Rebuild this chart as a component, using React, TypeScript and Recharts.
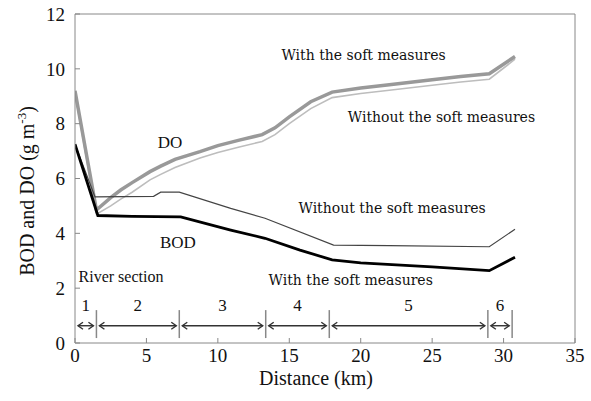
import React from 'react';
import { LineChart, Line, XAxis, YAxis, ReferenceLine, ReferenceDot } from 'recharts';

// DO with the soft measures
const doWithKm = [0, 1.5, 2.5, 3.2, 4, 5.25, 6, 7, 8.75, 10, 11.5, 13.1, 14, 15, 16.5, 18, 20, 22, 25, 27, 29, 30.8];
const doWithVal = [9.2, 4.85, 5.3, 5.58, 5.85, 6.25, 6.45, 6.7, 6.98, 7.2, 7.4, 7.6, 7.85, 8.25, 8.8, 9.15, 9.3, 9.42, 9.6, 9.72, 9.82, 10.45];
// DO without the soft measures
const doWithoutKm = [0, 1.5, 2.5, 3.2, 4, 5.25, 6, 7, 8.75, 10, 11.5, 13.1, 14, 15, 16.5, 18, 20, 22, 25, 27, 29, 30.8];
const doWithoutVal = [9.1, 4.7, 5.0, 5.25, 5.5, 5.95, 6.15, 6.4, 6.75, 6.95, 7.15, 7.35, 7.6, 8.0, 8.55, 8.95, 9.1, 9.22, 9.4, 9.52, 9.62, 10.35];
// BOD with the soft measures
const bodWithKm = [0, 1.6, 4, 7.4, 10.9, 13.3, 15.75, 18, 20, 25, 29, 30.8];
const bodWithVal = [7.25, 4.65, 4.62, 4.6, 4.12, 3.82, 3.39, 3.03, 2.92, 2.78, 2.64, 3.13];
// BOD without the soft measures
const bodWithoutKm = [0, 1.4, 5.5, 6, 7.3, 10.9, 13.3, 18.1, 22, 29, 30.8];
const bodWithoutVal = [7.25, 5.33, 5.35, 5.5, 5.5, 4.91, 4.55, 3.57, 3.55, 3.51, 4.15];

// River sections
const sectionBounds = [0, 1.5, 7.3, 13.35, 17.8, 28.9, 30.6];
const sectionLabels = ['1', '2', '3', '4', '5', '6'];

const xTicks = [0, 5, 10, 15, 20, 25, 30, 35];
const yTicks = [0, 2, 4, 6, 8, 10, 12];

const toRows = (km: number[], v: number[]) => km.map((k, i) => ({ km: k, v: v[i] }));
const doWith = toRows(doWithKm, doWithVal);
const doWithout = toRows(doWithoutKm, doWithoutVal);
const bodWith = toRows(bodWithKm, bodWithVal);
const bodWithout = toRows(bodWithoutKm, bodWithoutVal);

const AXIS_FONT = '"Liberation Serif", "Times New Roman", serif';
const NOTE_FONT = '"DejaVu Serif", serif';

const ArrowShape = (p: any) => {
  const { x1, y1, x2 } = p;
  const a = x1 + 3;
  const b = x2 - 3;
  const h = 5;
  return (
    <g stroke="#333" strokeWidth={1.4} fill="none">
      <line x1={a} y1={y1} x2={b} y2={y1} />
      <polyline points={`${a + h},${y1 - h * 0.7} ${a},${y1} ${a + h},${y1 + h * 0.7}`} />
      <polyline points={`${b - h},${y1 - h * 0.7} ${b},${y1} ${b - h},${y1 + h * 0.7}`} />
    </g>
  );
};

const makeText = (text: string, font: string, size: number, anchor: string = 'middle') => (p: any) => (
  <text x={p.cx} y={p.cy} textAnchor={anchor} dominantBaseline="central" fontFamily={font} fontSize={size} fill="#111">
    {text}
  </text>
);

const notes = [
  { x: 20.2, y: 10.5, t: 'With the soft measures' },
  { x: 25.65, y: 8.24, t: 'Without the soft measures' },
  { x: 22.2, y: 4.92, t: 'Without the soft measures' },
  { x: 19.3, y: 2.3, t: 'With the soft measures' },
];

export default function App() {
  return (
    <div style={{ position: 'absolute', left: 0, top: 0, width: 591, height: 401, background: '#fff' }}>
      <LineChart width={591} height={401} margin={{ top: 14, right: 16, bottom: 0, left: 0 }}>
        <XAxis
          type="number"
          dataKey="km"
          domain={[0, 35]}
          ticks={xTicks}
          allowDataOverflow
          height={58}
          stroke="#888"
          tickSize={-5}
          tickMargin={11}
          tick={{ fill: '#111', fontFamily: AXIS_FONT, fontSize: 19 }}
          label={{
            content: () => (
              <text x={316} y={385} textAnchor="middle" fontFamily={AXIS_FONT} fontSize={20} fill="#111">
                Distance (km)
              </text>
            ),
          }}
        />
        <YAxis
          type="number"
          domain={[0, 12]}
          ticks={yTicks}
          width={75}
          stroke="#888"
          tickSize={-5}
          tickMargin={15}
          tick={{ fill: '#111', fontFamily: AXIS_FONT, fontSize: 19 }}
          label={{
            content: () => (
              <text x={34} y={191} textAnchor="middle" transform="rotate(-90 34 191)" fontFamily={AXIS_FONT} fontSize={20} fill="#111">
                BOD and DO (g m<tspan dy={-8} fontSize={13}>-3</tspan><tspan dy={8}>)</tspan>
              </text>
            ),
          }}
        />
        <ReferenceLine y={12} stroke="#888" strokeWidth={1} />
        <ReferenceLine x={35} stroke="#888" strokeWidth={1} />

        <Line data={doWithout} dataKey="v" stroke="#bdbdbd" strokeWidth={1.6} dot={false} isAnimationActive={false} />
        <Line data={doWith} dataKey="v" stroke="#999" strokeWidth={3.5} dot={false} isAnimationActive={false} />
        <Line data={bodWithout} dataKey="v" stroke="#444" strokeWidth={1.2} dot={false} isAnimationActive={false} />
        <Line data={bodWith} dataKey="v" stroke="#000" strokeWidth={2.8} dot={false} isAnimationActive={false} />

        {sectionBounds.slice(1).map((b, i) => (
          <ReferenceLine key={'v' + i} segment={[{ x: b, y: 0.18 }, { x: b, y: 1.2 }]} stroke="#888" strokeWidth={1.5} />
        ))}
        {sectionLabels.map((lab, i) => (
          <ReferenceLine
            key={'a' + i}
            segment={[{ x: sectionBounds[i], y: 0.63 }, { x: sectionBounds[i + 1], y: 0.63 }]}
            shape={ArrowShape}
          />
        ))}
        {sectionLabels.map((lab, i) => (
          <ReferenceDot
            key={'l' + i}
            x={(sectionBounds[i] + sectionBounds[i + 1]) / 2}
            y={1.35}
            r={0}
            shape={makeText(lab, AXIS_FONT, 17)}
          />
        ))}
        {notes.map((n, i) => (
          <ReferenceDot key={'n' + i} x={n.x} y={n.y} r={0} shape={makeText(n.t, NOTE_FONT, 14)} />
        ))}
        <ReferenceDot x={6.65} y={7.3} r={0} shape={makeText('DO', AXIS_FONT, 17)} />
        <ReferenceDot x={7.2} y={3.65} r={0} shape={makeText('BOD', AXIS_FONT, 17)} />
        <ReferenceDot x={0.25} y={2.44} r={0} shape={makeText('River section', AXIS_FONT, 16, 'start')} />
      </LineChart>
    </div>
  );
}
